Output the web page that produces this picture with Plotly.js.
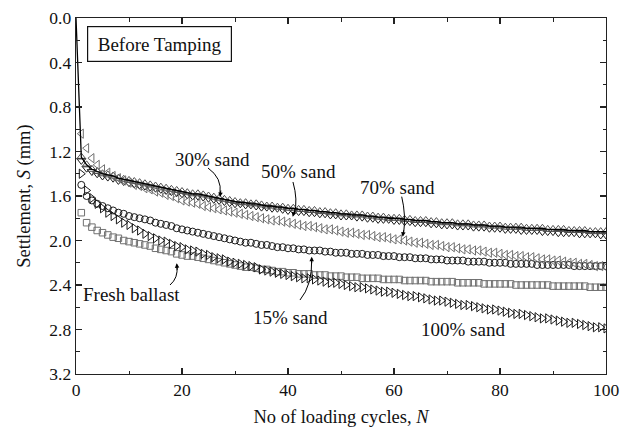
<!DOCTYPE html>
<html>
<head>
<meta charset="utf-8">
<script src="https://cdn.plot.ly/plotly-3.0.1.min.js"></script>
<style>html,body{margin:0;padding:0;background:#fff;}#chart{width:630px;height:428px;}</style>
</head>
<body>
<div id="chart"></div>
<script>
// Number of loading cycles
const cycles = Array.from({length: 100}, (_, i) => i + 1);

// Settlement S (mm), N = 1..100
const freshBallast = [
1.75,1.84,1.88,1.91,1.93,1.95,1.97,1.98,2.00,2.01,
2.02,2.03,2.04,2.05,2.07,2.08,2.09,2.10,2.12,2.13,
2.14,2.14,2.15,2.16,2.17,2.18,2.19,2.20,2.21,2.22,
2.23,2.24,2.24,2.25,2.26,2.26,2.27,2.28,2.28,2.29,
2.29,2.30,2.30,2.30,2.31,2.31,2.31,2.32,2.32,2.32,
2.33,2.33,2.33,2.34,2.34,2.34,2.34,2.35,2.35,2.35,
2.35,2.36,2.36,2.36,2.36,2.36,2.37,2.37,2.37,2.37,
2.37,2.38,2.38,2.38,2.38,2.38,2.39,2.39,2.39,2.39,
2.39,2.39,2.40,2.40,2.40,2.40,2.40,2.40,2.40,2.41,
2.41,2.41,2.41,2.41,2.41,2.41,2.42,2.42,2.42,2.42];

const sand15 = [
1.50,1.60,1.64,1.67,1.69,1.71,1.73,1.75,1.76,1.78,
1.79,1.80,1.81,1.82,1.84,1.85,1.86,1.87,1.89,1.90,
1.91,1.92,1.93,1.94,1.95,1.96,1.97,1.98,1.99,2.00,
2.01,2.02,2.02,2.03,2.04,2.04,2.05,2.06,2.06,2.07,
2.07,2.08,2.08,2.09,2.09,2.09,2.10,2.10,2.11,2.11,
2.11,2.12,2.12,2.12,2.13,2.13,2.13,2.14,2.14,2.14,
2.15,2.15,2.15,2.16,2.16,2.16,2.17,2.17,2.17,2.18,
2.18,2.18,2.18,2.19,2.19,2.19,2.19,2.20,2.20,2.20,
2.20,2.21,2.21,2.21,2.21,2.21,2.22,2.22,2.22,2.22,
2.22,2.22,2.22,2.23,2.23,2.23,2.23,2.23,2.23,2.23];

const sand30 = [
1.25,1.32,1.36,1.38,1.40,1.41,1.42,1.44,1.45,1.46,
1.47,1.48,1.49,1.50,1.51,1.52,1.53,1.54,1.55,1.56,
1.57,1.58,1.58,1.59,1.60,1.61,1.62,1.63,1.64,1.65,
1.66,1.66,1.67,1.67,1.68,1.69,1.69,1.70,1.70,1.71,
1.71,1.72,1.72,1.73,1.73,1.74,1.74,1.75,1.75,1.76,
1.76,1.77,1.77,1.77,1.78,1.78,1.79,1.79,1.80,1.80,
1.80,1.81,1.81,1.82,1.82,1.82,1.83,1.83,1.84,1.84,
1.84,1.85,1.85,1.85,1.86,1.86,1.86,1.87,1.87,1.87,
1.88,1.88,1.88,1.88,1.89,1.89,1.89,1.89,1.90,1.90,
1.90,1.90,1.91,1.91,1.91,1.91,1.92,1.92,1.92,1.92];

const sand50 = [
1.28,1.35,1.38,1.40,1.42,1.43,1.44,1.46,1.47,1.48,
1.49,1.50,1.51,1.52,1.53,1.54,1.55,1.56,1.57,1.58,
1.59,1.60,1.60,1.61,1.62,1.63,1.64,1.65,1.66,1.67,
1.67,1.68,1.68,1.69,1.70,1.70,1.71,1.71,1.72,1.73,
1.73,1.74,1.74,1.75,1.75,1.76,1.76,1.77,1.77,1.78,
1.78,1.78,1.79,1.79,1.80,1.80,1.81,1.81,1.81,1.82,
1.82,1.83,1.83,1.84,1.84,1.84,1.85,1.85,1.86,1.86,
1.86,1.87,1.87,1.87,1.88,1.88,1.88,1.89,1.89,1.89,
1.90,1.90,1.90,1.91,1.91,1.91,1.91,1.92,1.92,1.92,
1.93,1.93,1.93,1.93,1.94,1.94,1.94,1.94,1.95,1.95];

const sand70 = [
1.04,1.17,1.26,1.32,1.36,1.39,1.42,1.44,1.46,1.48,
1.50,1.51,1.53,1.54,1.56,1.57,1.59,1.60,1.62,1.64,
1.65,1.66,1.67,1.69,1.70,1.71,1.72,1.73,1.74,1.75,
1.76,1.77,1.78,1.79,1.80,1.81,1.82,1.82,1.83,1.84,
1.85,1.86,1.87,1.87,1.88,1.89,1.90,1.90,1.91,1.92,
1.93,1.93,1.94,1.95,1.95,1.96,1.97,1.97,1.98,1.99,
1.99,2.00,2.01,2.02,2.02,2.03,2.04,2.04,2.05,2.06,
2.06,2.07,2.08,2.08,2.09,2.09,2.10,2.11,2.11,2.12,
2.13,2.13,2.14,2.14,2.15,2.15,2.16,2.17,2.17,2.18,
2.18,2.19,2.20,2.20,2.21,2.21,2.22,2.23,2.23,2.24];

const sand100 = [
1.40,1.55,1.62,1.67,1.71,1.75,1.78,1.81,1.84,1.86,
1.89,1.91,1.94,1.96,1.98,2.00,2.01,2.03,2.05,2.06,
2.08,2.09,2.10,2.12,2.13,2.15,2.16,2.17,2.19,2.20,
2.21,2.22,2.23,2.24,2.26,2.27,2.28,2.29,2.30,2.31,
2.32,2.33,2.34,2.34,2.35,2.36,2.37,2.38,2.38,2.39,
2.40,2.41,2.42,2.42,2.43,2.44,2.45,2.46,2.46,2.47,
2.48,2.49,2.50,2.50,2.51,2.52,2.53,2.54,2.54,2.55,
2.56,2.57,2.58,2.58,2.59,2.60,2.61,2.62,2.62,2.63,
2.64,2.65,2.66,2.66,2.67,2.68,2.69,2.70,2.70,2.71,
2.72,2.73,2.74,2.74,2.75,2.76,2.77,2.78,2.78,2.79];

const seriesNames = ['Fresh ballast','15% sand','30% sand','50% sand','70% sand','100% sand'];
const xTicks = [0,20,40,60,80,100];
const yTicks = [0.0,0.4,0.8,1.2,1.6,2.0,2.4,2.8,3.2];

const FONT = 'Liberation Serif, Times New Roman, serif';
const GRAY = '#707070';
const DARK = '#1a1a1a';

function mk(name, y, symbol, color, size) {
  return {
    type: 'scatter', mode: 'markers', name: name,
    x: cycles, y: y,
    marker: {symbol: symbol, size: size, color: color, line: {color: color, width: 1}},
    showlegend: false, hoverinfo: 'skip'
  };
}

const traces = [
  mk(seriesNames[0], freshBallast, 'square-open', GRAY, 6.5),
  mk(seriesNames[1], sand15, 'circle-open', DARK, 7),
  mk(seriesNames[3], sand50, 'triangle-down-open', DARK, 8),
  mk(seriesNames[2], sand30, 'triangle-up-open', '#505050', 8),
  mk(seriesNames[4], sand70, 'triangle-left-open', GRAY, 8),
  mk(seriesNames[5], sand100, 'triangle-right-open', DARK, 8),
  {
    type: 'scatter', mode: 'lines', name: seriesNames[2] + ' line',
    x: [0].concat(cycles), y: [0].concat(sand30),
    line: {color: '#000', width: 1.3}, showlegend: false, hoverinfo: 'skip'
  }
];

function txt(text, x, y) {
  return {text: text, x: x, y: y, xref: 'x', yref: 'y', showarrow: false,
    font: {family: FONT, size: 19, color: '#111'}};
}
// arrow head at the tip of a curved leader
function head(x, y, ax, ay) {
  return {text: '', x: x, y: y, xref: 'x', yref: 'y', showarrow: true,
    ax: ax, ay: ay, arrowhead: 2, arrowsize: 0.9, arrowwidth: 1,
    arrowcolor: '#000', standoff: 0};
}
// curved leader line (quadratic), in axis units
function leader(x0, y0, cx, cy, x1, y1) {
  return {type: 'path', xref: 'x', yref: 'y',
    path: 'M ' + x0 + ',' + y0 + ' Q ' + cx + ',' + cy + ' ' + x1 + ',' + y1,
    line: {color: '#000', width: 1}};
}

const annotations = [
  {
    text: 'Before Tamping', xref: 'paper', yref: 'paper', x: 0.021, y: 0.978,
    xanchor: 'left', yanchor: 'top', showarrow: false,
    bordercolor: '#111', borderwidth: 1.2, borderpad: 4, width: 135, height: 26,
    bgcolor: '#fff', font: {family: FONT, size: 19, color: '#111'}
  },
  txt(seriesNames[2], 25.66, 1.276), head(27.17, 1.609, 1, -8),
  txt(seriesNames[3], 41.9, 1.384),  head(40.89, 1.786, 2.4, -7.6),
  txt(seriesNames[4], 60.75, 1.528), head(61.64, 1.966, 1.2, -8),
  txt(seriesNames[1], 40.4, 2.696),  head(44.47, 2.146, 0, 8),
  txt(seriesNames[0], 10.5, 2.481),  head(19.0, 2.205, 0.7, 8),
  txt(seriesNames[5], 73.0, 2.804)
];

const shapes = [
  leader(24.9, 1.348, 27.6, 1.438, 27.17, 1.58),
  leader(40.94, 1.474, 41.9, 1.636, 41.2, 1.76),
  leader(61.45, 1.606, 62.3, 1.771, 61.8, 1.94),
  leader(42.26, 2.535, 44.6, 2.40, 44.47, 2.17),
  leader(17.74, 2.40, 19.3, 2.337, 19.05, 2.23)
];

const axisCommon = {
  showgrid: false, zeroline: false, showline: true, linecolor: '#222', linewidth: 1.3,
  mirror: 'ticks', ticks: 'inside', ticklen: 6, tickwidth: 1.2, tickcolor: '#222',
  tickfont: {family: FONT, size: 17.5, color: '#111'}
};

const layout = {
  width: 630, height: 428,
  margin: {l: 76, r: 24, t: 18, b: 54},
  paper_bgcolor: '#fff', plot_bgcolor: '#fff',
  font: {family: FONT},
  xaxis: Object.assign({}, axisCommon, {
    range: [0, 100], tickvals: xTicks, ticktext: xTicks.map(String),
    minor: {dtick: 10, tick0: 0, ticks: 'inside', ticklen: 3.5, tickwidth: 1, tickcolor: '#222'},
    title: {text: 'No of loading cycles, <i>N</i>', font: {family: FONT, size: 18.5, color: '#111'}, standoff: 10}
  }),
  yaxis: Object.assign({}, axisCommon, {
    range: [3.2, 0], tickvals: yTicks, ticktext: yTicks.map(v => v.toFixed(1)),
    minor: {dtick: 0.2, tick0: 0, ticks: 'inside', ticklen: 3.5, tickwidth: 1, tickcolor: '#222'},
    title: {text: 'Settlement, <i>S</i> (mm)', font: {family: FONT, size: 18.5, color: '#111'}, standoff: 14}
  }),
  annotations: annotations,
  shapes: shapes
};

Plotly.newPlot('chart', traces, layout, {staticPlot: true, displayModeBar: false});
</script>
</body>
</html>
